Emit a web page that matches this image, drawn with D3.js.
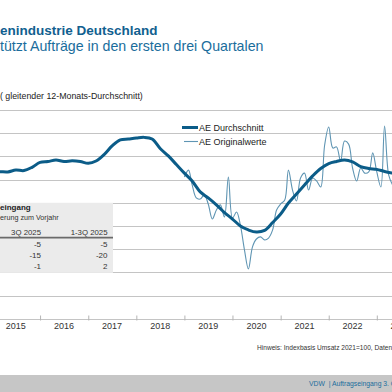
<!DOCTYPE html>
<html><head><meta charset="utf-8">
<script src="https://cdn.jsdelivr.net/npm/d3@7"></script>
<style>
body{margin:0;background:#fff}
svg{display:block;font-family:"Liberation Sans",Arial,sans-serif}
</style>
</head><body>
<svg id="c" width="392" height="392"></svg>
<script>
// ---- data ----
const avgDates = [
 "2014-09","2014-11",
 "2015-01","2015-03","2015-05","2015-07","2015-09","2015-11",
 "2016-01","2016-03","2016-05","2016-07","2016-09","2016-11",
 "2017-01","2017-03","2017-05","2017-07","2017-09","2017-11",
 "2018-01","2018-03","2018-05","2018-07","2018-09","2018-11",
 "2019-01","2019-03","2019-05","2019-07","2019-09","2019-11",
 "2020-01","2020-03","2020-05","2020-07","2020-09","2020-11",
 "2021-01","2021-03","2021-05","2021-07","2021-09","2021-11",
 "2022-01","2022-03","2022-05","2022-07","2022-09","2022-11",
 "2023-01","2023-03","2023-05","2023-07"];
const avgValues = [
 112.8,113.1,
 113.3,113.4,113.3,114.1,113.9,115.3,
 117.4,117.8,118.4,117.8,118.1,117.8,
 117.0,118.0,120.8,124.5,127.1,127.5,
 127.9,128.2,127.5,123.4,120.2,116.5,
 112.8,109.4,104.7,102.1,99.1,95.8,
 93.0,90.0,88.3,87.4,88.1,91.5,
 95.2,99.9,103.8,107.7,111.6,114.8,
 116.9,117.8,118.4,117.6,115.6,114.8,
 114.4,113.5,112.8,112.2];
const origDates = [
 "2019-01","2019-02","2019-03","2019-04","2019-05","2019-06","2019-07","2019-08","2019-09","2019-10","2019-11","2019-12",
 "2020-01","2020-02","2020-03","2020-04","2020-05","2020-06","2020-07","2020-08","2020-09","2020-10","2020-11","2020-12",
 "2021-01","2021-02","2021-03","2021-04","2021-05","2021-06","2021-07","2021-08","2021-09","2021-10","2021-11","2021-12",
 "2022-01","2022-02","2022-03","2022-04","2022-05","2022-06","2022-07","2022-08","2022-09","2022-10","2022-11","2022-12",
 "2023-01","2023-02","2023-03","2023-04","2023-05"];
const origValues = [
 111.1,114.1,107.7,102.1,101.6,103.4,99.5,93.0,96.9,99.1,93.9,111.1,
 93.4,96.0,90.4,79.7,71.5,81.0,84.4,85.3,84.0,84.8,88.3,96.9,
 99.5,101.2,114.1,105.5,100.8,110.7,112.8,105.5,110.7,109.4,106.8,124.9,
 132.7,123.6,124.1,118.0,126.6,125.3,115.0,109.4,115.0,112.8,113.3,121.5,
 113.3,106.8,133.1,112.0,107.7];
const yearLabels = ["2015","2016","2017","2018","2019","2020","2021","2022","2023"];
const gridValues = [50,60,70,80,90,100,110,120,130,140];
const legendLabels = ["AE Durchschnitt","AE Originalwerte"];
const tableTitle = "eingang";
const tableSub = "erung zum Vorjahr";
const tableHeaders = ["3Q 2025","1-3Q 2025"];
const table3Q = ["-5","-15","-1"];
const table13Q = ["-5","-20","2"];
const titleText = "enindustrie Deutschland";
const subtitleText = "tützt Aufträge in den ersten drei Quartalen";
const yLabelText = "( gleitender 12-Monats-Durchschnitt)";
const noteText = "Hinweis: Indexbasis Umsatz 2021=100, Daten";
const footerText = "VDW  | Auftragseingang 3. Quartal 2025";

// ---- setup ----
const svg = d3.select("#c");
const parse = d3.timeParse("%Y-%m");
const x = d3.scaleTime().domain([new Date(2015,0,1), new Date(2023,0,1)]).range([-8, 376.8]);
const y = d3.scaleLinear().domain([50,140]).range([318.8,110]);
const C_DARK = "#0b5c88", C_LIGHT = "#5f95b3", C_TITLE = "#11608f";

// titles
svg.append("text").attr("x",0).attr("y",35).attr("font-size",13.5).attr("font-weight","bold")
  .attr("fill",C_TITLE).text(titleText);
svg.append("text").attr("x",0).attr("y",51).attr("font-size",14.2)
  .attr("fill","#1a6d9c").text(subtitleText);
svg.append("text").attr("x",0).attr("y",98.5).attr("font-size",8.8).attr("fill","#222").text(yLabelText);

// gridlines
svg.append("g").selectAll("line").data(gridValues).join("line")
  .attr("x1",0).attr("x2",392)
  .attr("y1",d=>Math.round(y(d))+0.5).attr("y2",d=>Math.round(y(d))+0.5)
  .attr("stroke","#c4c4c4").attr("stroke-width",1.2);

// x axis ticks
const tickYears = d3.range(2016,2024).map(yr=>new Date(yr,0,1));
const ax = svg.append("g").attr("transform","translate(0,315.5)")
  .call(d3.axisBottom(x).tickValues(tickYears).tickSize(5).tickFormat(""));
ax.select(".domain").remove();
ax.selectAll(".tick line").attr("stroke","#b5b5b5");
svg.append("g").selectAll("text").data(yearLabels).join("text")
  .attr("x",d=>x(new Date(+d,6,1))).attr("y",329)
  .attr("text-anchor","middle").attr("font-size",9).attr("fill","#333").text(d=>d);

// table box
const tb = svg.append("g");
tb.append("rect").attr("x",0).attr("y",y(100)).attr("width",113).attr("height",y(70)-y(100)+0.5).attr("fill","#ebebeb");
tb.append("text").attr("x",0).attr("y",209.5).attr("font-size",8).attr("font-weight","bold").attr("fill","#222").text(tableTitle);
tb.append("text").attr("x",0).attr("y",220).attr("font-size",7.2).attr("fill","#333").text(tableSub);
const colX = [41, 107.5];
tableHeaders.forEach((h,i)=>tb.append("text").attr("x",colX[i]).attr("y",235).attr("text-anchor","end")
  .attr("font-size",7.8).attr("fill","#333").text(h));
tb.append("line").attr("x1",0).attr("x2",113).attr("y1",237.6).attr("y2",237.6).attr("stroke","#6a6a6a").attr("stroke-width",1.6);
const rowY = [246.5,257.5,268.5];
table3Q.forEach((v,i)=>tb.append("text").attr("x",colX[0]).attr("y",rowY[i]).attr("text-anchor","end")
  .attr("font-size",8).attr("fill","#333").text(v));
table13Q.forEach((v,i)=>tb.append("text").attr("x",colX[1]).attr("y",rowY[i]).attr("text-anchor","end")
  .attr("font-size",8).attr("fill","#333").text(v));

// lines
const avgData = avgDates.map((d,i)=>({date:parse(d), v:avgValues[i]}));
const origData = origDates.map((d,i)=>({date:parse(d), v:origValues[i]}));
const line = d3.line().x(d=>x(d.date)).y(d=>y(d.v)).curve(d3.curveCatmullRom.alpha(0.5));
svg.append("path").datum(origData).attr("d",line).attr("fill","none")
  .attr("stroke",C_LIGHT).attr("stroke-width",1.1).attr("stroke-linejoin","round");
svg.append("path").datum(avgData).attr("d",line).attr("fill","none")
  .attr("stroke",C_DARK).attr("stroke-width",3).attr("stroke-linejoin","round").attr("stroke-linecap","round");

// legend
const lg = svg.append("g");
lg.append("line").attr("x1",182).attr("x2",198).attr("y1",127.5).attr("y2",127.5).attr("stroke",C_DARK).attr("stroke-width",3);
lg.append("line").attr("x1",184).attr("x2",198).attr("y1",141.5).attr("y2",141.5).attr("stroke",C_LIGHT).attr("stroke-width",1.1);
lg.append("text").attr("x",199).attr("y",131).attr("font-size",9).attr("fill","#222").text(legendLabels[0]);
lg.append("text").attr("x",199).attr("y",145).attr("font-size",9).attr("fill","#222").text(legendLabels[1]);

// note
svg.append("text").attr("x",257).attr("y",350).attr("font-size",6.6).attr("fill","#333").text(noteText);

// footer band
svg.append("rect").attr("x",0).attr("y",375).attr("width",392).attr("height",17).attr("fill","#c6c6c6");
svg.append("text").attr("x",309).attr("y",385.5).attr("font-size",6.8).attr("fill","#1a6d9c").attr("xml:space","preserve").text(footerText);
</script>
</body></html>
